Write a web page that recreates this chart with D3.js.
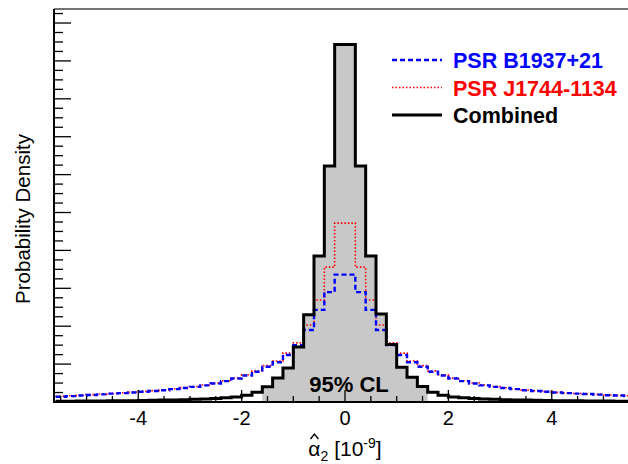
<!DOCTYPE html>
<html><head><meta charset="utf-8">
<script src="https://cdn.jsdelivr.net/npm/d3@7"></script>
<style>html,body{margin:0;padding:0;background:#fff;} svg{display:block;}</style>
</head><body>
<script>
// ---- data ----
const binLo = -5.6, binWidth = 0.2;          // histogram binning (alpha_2 in 1e-9)
const clRange = [-1.6, 1.6];                  // 95% CL shaded region
const xTickLabels = [-4, -2, 0, 2, 4];
// bins from -5.6 to 5.6 (56 bins)
const combined = [0.02,0.022,0.024,0.026,0.028,0.03,0.033,0.036,0.04,0.045,0.05,0.055,0.06,0.07,0.08,0.09,0.11,0.13,0.18,0.26,0.4,0.63,0.9,1.45,2.3,3.85,6.23,9.43,
                  9.43,6.23,3.85,2.32,1.52,0.92,0.65,0.41,0.26,0.18,0.13,0.11,0.09,0.08,0.07,0.06,0.055,0.05,0.045,0.04,0.036,0.033,0.03,0.028,0.026,0.024,0.022,0.02];
const psrB1937 = [0.14,0.155,0.17,0.185,0.2,0.22,0.235,0.25,0.27,0.29,0.31,0.34,0.37,0.4,0.44,0.49,0.55,0.62,0.7,0.8,0.93,1.05,1.24,1.5,1.9,2.43,2.9,3.36,
                  3.36,2.9,2.43,1.9,1.5,1.24,1.05,0.93,0.8,0.7,0.62,0.55,0.49,0.44,0.4,0.37,0.34,0.31,0.29,0.27,0.25,0.235,0.22,0.21,0.195,0.18,0.17,0.16];
const psrJ1744 = [0.15,0.165,0.18,0.195,0.21,0.225,0.245,0.26,0.28,0.3,0.32,0.35,0.38,0.41,0.45,0.5,0.56,0.63,0.72,0.82,0.96,1.08,1.29,1.56,2.03,2.69,3.56,4.72,
                  4.72,3.56,2.69,2.03,1.56,1.29,1.08,0.96,0.82,0.72,0.63,0.56,0.5,0.45,0.41,0.375,0.345,0.315,0.295,0.275,0.255,0.24,0.225,0.21,0.2,0.185,0.175,0.165];
const legendNames = ["PSR B1937+21", "PSR J1744-1134", "Combined"];
</script>
<script>
const W = 628, H = 464;
const svg = d3.select("body").append("svg").attr("width", W).attr("height", H);
const font = "'Liberation Sans', Arial, Helvetica, sans-serif";

const x = d3.scaleLinear().domain([-5.63, 5.63]).range([54, 636]);
const y = d3.scaleLinear().domain([0, 10.37]).range([402, 9]);

function stepPts(vals) {
  const pts = vals.map((v, i) => [binLo + i * binWidth, v]);
  pts.push([binLo + vals.length * binWidth, vals[vals.length - 1]]);
  return pts;
}
const line = d3.line().x(d => x(d[0])).y(d => y(d[1])).curve(d3.curveStepAfter);

// shaded CL area
const clPts = stepPts(combined).filter(p => p[0] >= clRange[0] - 1e-9 && p[0] <= clRange[1] + 1e-9);
const area = d3.area().x(d => x(d[0])).y0(y(0)).y1(d => y(d[1])).curve(d3.curveStepAfter);
svg.append("path").datum(clPts).attr("d", area).attr("fill", "#c8c8c8");

svg.append("path").datum(stepPts(psrJ1744)).attr("d", line)
  .attr("fill", "none").attr("stroke", "#ff0000").attr("stroke-width", 1.6).attr("stroke-dasharray", "1.5,2");
svg.append("path").datum(stepPts(psrB1937)).attr("d", line)
  .attr("fill", "none").attr("stroke", "#0000ff").attr("stroke-width", 2.4).attr("stroke-dasharray", "5,3");
svg.append("path").datum(stepPts(combined)).attr("d", line)
  .attr("fill", "none").attr("stroke", "#000").attr("stroke-width", 3);

// frame top
svg.append("line").attr("x1", 54).attr("x2", W).attr("y1", 9).attr("y2", 9)
  .attr("stroke", "#444").attr("stroke-width", 1.5);

// y axis ticks
const gy = svg.append("g");
d3.range(0, 10.3, 0.25).forEach(v => {
  const major = Math.abs(v - Math.round(v)) < 1e-6;
  gy.append("line").attr("x1", x.range()[0]).attr("x2", x.range()[0] + (major ? 17 : 9))
    .attr("y1", y(v)).attr("y2", y(v)).attr("stroke", "#000").attr("stroke-width", 1.3);
});
svg.append("line").attr("x1", 54).attr("x2", 54).attr("y1", 9).attr("y2", 402.5)
  .attr("stroke", "#000").attr("stroke-width", 2);

// x axis
const gx = svg.append("g");
d3.range(-5.5, 5.6, 0.5).forEach(v => {
  const major = Math.abs(v / 2 - Math.round(v / 2)) < 1e-6;
  gx.append("line").attr("x1", x(v)).attr("x2", x(v)).attr("y1", y(0)).attr("y2", y(0) - (major ? 12 : 6))
    .attr("stroke", "#000").attr("stroke-width", 1.3);
});
svg.append("line").attr("x1", 53).attr("x2", W).attr("y1", y(0)).attr("y2", y(0))
  .attr("stroke", "#000").attr("stroke-width", 2);
gx.selectAll("text.tl").data(xTickLabels).enter().append("text")
  .attr("x", d => x(d)).attr("y", 425).attr("text-anchor", "middle")
  .attr("font-family", font).attr("font-size", 20).text(d => d < 0 ? "-" + Math.abs(d) : d);

// x title
const xt = svg.append("text").attr("x", 345).attr("y", 456).attr("text-anchor", "middle")
  .attr("font-family", font).attr("font-size", 21);
xt.append("tspan").attr("id", "alpha").text("\u03B1");
xt.append("tspan").attr("font-size", 14).attr("dy", 5).text("2");
xt.append("tspan").attr("dy", -5).text(" [10");
xt.append("tspan").attr("font-size", 14).attr("dy", -8).text("-9");
xt.append("tspan").attr("dy", 8).text("]");
// hat over alpha (drawn as a small path)
const bb = xt.node().getBBox();
const alphaW = xt.select("#alpha").node().getComputedTextLength();
const hx = bb.x + alphaW / 2;
svg.append("path").attr("d", `M${hx - 4},${439} L${hx},${434} L${hx + 4},${439}`)
  .attr("fill", "none").attr("stroke", "#000").attr("stroke-width", 1.4);

// y title
svg.append("text").attr("transform", "translate(30,219) rotate(-90)").attr("text-anchor", "middle")
  .attr("font-family", font).attr("font-size", 20.5).text("Probability Density");

// 95% CL label
svg.append("text").attr("x", 349).attr("y", 392).attr("text-anchor", "middle")
  .attr("font-family", font).attr("font-size", 22).attr("font-weight", "bold").text("95% CL");

// legend
const legStyles = [
  {color: "#0000ff", dash: "5,3", w: 2.4, tc: "#0000ff"},
  {color: "#ff0000", dash: "1.5,2", w: 1.6, tc: "#ff0000"},
  {color: "#000", dash: null, w: 3, tc: "#000"}
];
const legY = [60, 87.5, 115];
legendNames.forEach((name, i) => {
  const s = legStyles[i];
  const l = svg.append("line").attr("x1", 392).attr("x2", 442).attr("y1", legY[i]).attr("y2", legY[i])
    .attr("stroke", s.color).attr("stroke-width", s.w);
  if (s.dash) l.attr("stroke-dasharray", s.dash);
  svg.append("text").attr("x", 453).attr("y", legY[i] + 8).attr("font-family", font)
    .attr("font-size", 21.5).attr("font-weight", "bold").attr("fill", s.tc).text(name);
});
</script>
</body></html>
